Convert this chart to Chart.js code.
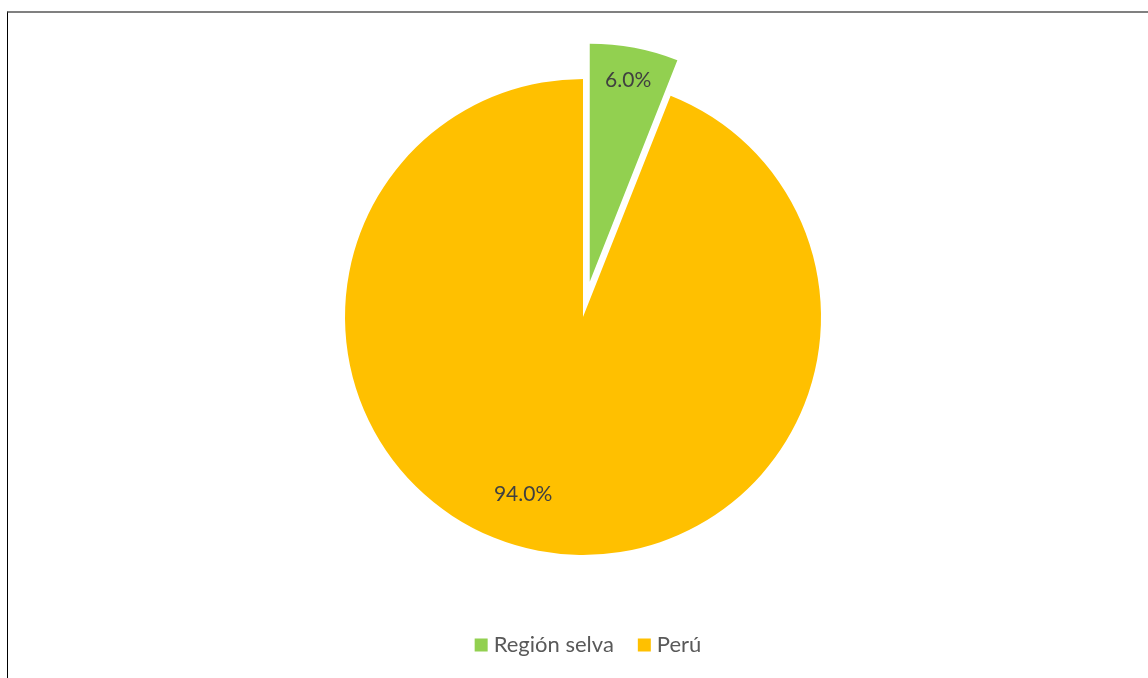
<!DOCTYPE html>
<html>
<head>
<meta charset="utf-8">
<script src="https://cdn.jsdelivr.net/npm/chart.js@4"></script>
<style>
  html, body { margin: 0; padding: 0; background: #fff; }
  #wrap { position: relative; width: 1148px; height: 678px; overflow: hidden; }
  #frame { position: absolute; left: 7px; top: 11px; width: 1200px; height: 700px;
           border-top: 2px solid #808080; border-left: 1px solid #000; }
  canvas { position: absolute; left: 0; top: 0; }
</style>
</head>
<body>
<div id="wrap">
  <div id="frame"></div>
  <canvas id="c" width="1148" height="678"></canvas>
</div>
<script>
// Share of the total (%)
const categories = ['Región selva', 'Perú'];
const shares = [6.0, 94.0];
const sliceColors = ['#92D050', '#FFC000'];

// Styling / placement constants
const explodeDistance = [36, 0];          // px a slice is pulled out along its mid-angle
const labelRadiusFraction = [0.862, 0.785];
const labelAngleShiftDeg = [0, 7.9];
const FONT_FAMILY = 'Lato, "Open Sans", sans-serif';
const LABEL_FONT_SIZE = 21;
const LEGEND_FONT_SIZE = 22;
const LEGEND_CENTER = { x: 588, y: 645 };

function sliceShift(arc, i) {
  const mid = (arc.startAngle + arc.endAngle) / 2;
  const d = explodeDistance[i] || 0;
  return { dx: Math.cos(mid) * d, dy: Math.sin(mid) * d };
}

// Draws each arc with its own explode translation
const explodedSlices = {
  id: 'explodedSlices',
  beforeDatasetDraw(chart, args) {
    const ctx = chart.ctx;
    args.meta.data.forEach((arc, i) => {
      const s = sliceShift(arc, i);
      ctx.save();
      ctx.translate(s.dx, s.dy);
      arc.draw(ctx, chart.chartArea);
      ctx.restore();
    });
    return false;
  }
};

// Percentage labels inside the slices
const sliceLabels = {
  id: 'sliceLabels',
  afterDatasetsDraw(chart) {
    const ctx = chart.ctx;
    const meta = chart.getDatasetMeta(0);
    const values = chart.data.datasets[0].data;
    ctx.save();
    ctx.font = LABEL_FONT_SIZE + 'px ' + FONT_FAMILY;
    ctx.fillStyle = '#404040';
    ctx.textAlign = 'center';
    ctx.textBaseline = 'middle';
    meta.data.forEach((arc, i) => {
      const s = sliceShift(arc, i);
      const a = (arc.startAngle + arc.endAngle) / 2 + labelAngleShiftDeg[i] * Math.PI / 180;
      const r = arc.outerRadius * labelRadiusFraction[i];
      const x = arc.x + s.dx + Math.cos(a) * r;
      const y = arc.y + s.dy + Math.sin(a) * r;
      ctx.fillText(values[i].toFixed(1) + '%', x, y);
    });
    ctx.restore();
  }
};

// Legend row under the pie
const bottomLegend = {
  id: 'bottomLegend',
  afterDraw(chart) {
    const ctx = chart.ctx;
    const labels = chart.data.labels;
    const colors = chart.data.datasets[0].backgroundColor;
    const box = 13, gapBoxText = 6, gapItems = 24;
    ctx.save();
    ctx.font = LEGEND_FONT_SIZE + 'px ' + FONT_FAMILY;
    ctx.textBaseline = 'middle';
    ctx.textAlign = 'left';
    const widths = labels.map(t => box + gapBoxText + ctx.measureText(t).width);
    const total = widths.reduce((a, b) => a + b, 0) + gapItems * (labels.length - 1);
    let x = LEGEND_CENTER.x - total / 2;
    labels.forEach((t, i) => {
      ctx.fillStyle = colors[i];
      ctx.fillRect(x, LEGEND_CENTER.y - box / 2, box, box);
      ctx.fillStyle = '#595959';
      ctx.fillText(t, x + box + gapBoxText, LEGEND_CENTER.y);
      x += widths[i] + gapItems;
    });
    ctx.restore();
  }
};

new Chart(document.getElementById('c'), {
  type: 'pie',
  data: {
    labels: categories,
    datasets: [{
      data: shares,
      backgroundColor: sliceColors,
      borderWidth: 0
    }]
  },
  options: {
    responsive: false,
    animation: false,
    radius: 238,
    layout: { padding: { left: 18, right: 0, top: 0, bottom: 44 } },
    plugins: {
      legend: { display: false },
      tooltip: { enabled: false }
    }
  },
  plugins: [explodedSlices, sliceLabels, bottomLegend]
});
</script>
</body>
</html>
